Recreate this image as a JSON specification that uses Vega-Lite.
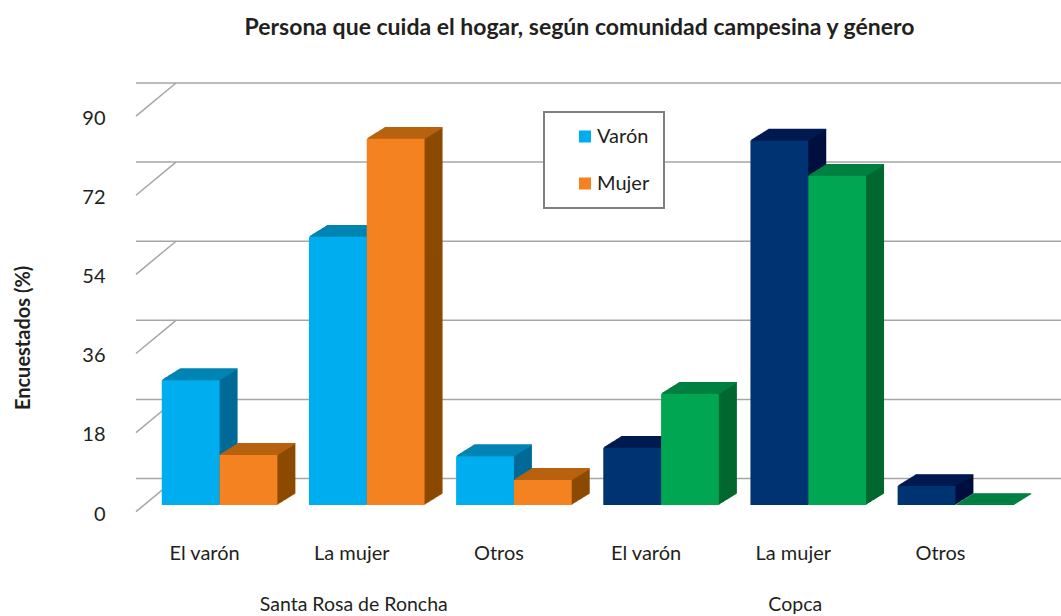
{"$schema":"https://vega.github.io/schema/vega-lite/v6.json","autosize":"none","width":925,"height":395.6,"padding":{"left":136,"top":109.4,"right":0,"bottom":111},"background":"white",
"config":{"view":{"stroke":null},"font":"Lato","legend":{"strokeWidth":2}},
"title":{"text":"Persona que cuida el hogar, según comunidad campesina y género","font":"Lato","fontSize":23,"fontWeight":"bold","color":"#231f20","anchor":"middle","frame":"group","dx":-19,"offset":42},
"datasets":{"barras":[
{"grupo":"Santa Rosa de Roncha","categoria":"Santa Rosa de Roncha|El varón","genero":"Varón","serie":"Varón","valor":28.4},
{"grupo":"Santa Rosa de Roncha","categoria":"Santa Rosa de Roncha|El varón","genero":"Mujer","serie":"Mujer","valor":11.4},
{"grupo":"Santa Rosa de Roncha","categoria":"Santa Rosa de Roncha|La mujer","genero":"Varón","serie":"Varón","valor":61},
{"grupo":"Santa Rosa de Roncha","categoria":"Santa Rosa de Roncha|La mujer","genero":"Mujer","serie":"Mujer","valor":83.3},
{"grupo":"Santa Rosa de Roncha","categoria":"Santa Rosa de Roncha|Otros","genero":"Varón","serie":"Varón","valor":11.1},
{"grupo":"Santa Rosa de Roncha","categoria":"Santa Rosa de Roncha|Otros","genero":"Mujer","serie":"Mujer","valor":5.7},
{"grupo":"Copca","categoria":"Copca|El varón","genero":"Varón","serie":"Varón Copca","valor":13},
{"grupo":"Copca","categoria":"Copca|El varón","genero":"Mujer","serie":"Mujer Copca","valor":25.3},
{"grupo":"Copca","categoria":"Copca|La mujer","genero":"Varón","serie":"Varón Copca","valor":82.9},
{"grupo":"Copca","categoria":"Copca|La mujer","genero":"Mujer","serie":"Mujer Copca","valor":74.9},
{"grupo":"Copca","categoria":"Copca|Otros","genero":"Varón","serie":"Varón Copca","valor":4.3},
{"grupo":"Copca","categoria":"Copca|Otros","genero":"Mujer","serie":"Mujer Copca","valor":0}
],
"marcas":[{"v":0},{"v":18},{"v":36},{"v":54},{"v":72},{"v":90}],
"grupos":[{"categoria":"Santa Rosa de Roncha|La mujer","grupo":"Santa Rosa de Roncha"},{"categoria":"Copca|La mujer","grupo":"Copca"}]},
"layer":[
{"data":{"name":"marcas"},"mark":{"type":"rule","color":"#a6a6a6","strokeWidth":1.5,"xOffset":40,"yOffset":-26.4},
 "encoding":{"y":{"field":"v","type":"quantitative","scale":{"domain":[0,90],"nice":false},
  "axis":{"values":[0,18,36,54,72,90],"grid":false,"domain":false,"ticks":false,"labelFont":"Lato","labelFontSize":20,"labelColor":"#231f20","labelPadding":31,"labelOffset":9,"title":"Encuestados (%)","titleFont":"Lato","titleFontSize":20,"titleFontWeight":"bold","titleColor":"#231f20","titleX":-113,"titleY":228,"titleAngle":-90,"titleAlign":"center","titleBaseline":"middle"}}}},
{"data":{"name":"marcas"},"mark":{"type":"rule","color":"#a6a6a6","strokeWidth":1.5,"xOffset":-83.6,"x2Offset":-43.6,"yOffset":6.7,"y2Offset":-26.4},
 "encoding":{"x":{"datum":"Santa Rosa de Roncha|El varón","type":"nominal"},"x2":{"datum":"Santa Rosa de Roncha|El varón"},"y":{"field":"v","type":"quantitative"},"y2":{"field":"v"}}},
{"data":{"name":"barras"},
 "resolve":{"scale":{"color":"independent","stroke":"independent"}},
 "encoding":{
  "x":{"field":"categoria","type":"nominal","sort":null,"scale":{"domain":["Santa Rosa de Roncha|El varón","Santa Rosa de Roncha|La mujer","Santa Rosa de Roncha|Otros","Copca|El varón","Copca|La mujer","Copca|Otros"],"range":[10,893],"paddingInner":0,"paddingOuter":0},
   "axis":{"title":null,"domain":false,"ticks":false,"labelAngle":0,"labelAlign":"center","labelBaseline":"middle","labelFont":"Lato","labelFontSize":20,"labelColor":"#231f20","labelPadding":48,"labelOffset":-15,"labelExpr":"split(datum.value,'|')[1]"}},
  "y":{"field":"valor","type":"quantitative","stack":null}},
 "layer":[
 {"encoding":{"y2":{"datum":0},"color":{"field":"serie","type":"nominal","legend":null,"scale":{"domain":["Varón","Mujer","Varón Copca","Mujer Copca"],"range":["#006a96","#8c4a00","#000f40","#006830"]}}},
  "layer":[
  {"mark":{"type":"bar","width":57.8,"xOffset":{"expr":"(datum.genero=='Varón'?-28.9:28.9)+18"},"yOffset":-11.2,"y2Offset":-11.2}},{"mark":{"type":"bar","width":57.8,"xOffset":{"expr":"(datum.genero=='Varón'?-28.9:28.9)+17"},"yOffset":-10.6,"y2Offset":-10.6}},{"mark":{"type":"bar","width":57.8,"xOffset":{"expr":"(datum.genero=='Varón'?-28.9:28.9)+16"},"yOffset":-10,"y2Offset":-10}},{"mark":{"type":"bar","width":57.8,"xOffset":{"expr":"(datum.genero=='Varón'?-28.9:28.9)+15"},"yOffset":-9.3,"y2Offset":-9.3}},{"mark":{"type":"bar","width":57.8,"xOffset":{"expr":"(datum.genero=='Varón'?-28.9:28.9)+14"},"yOffset":-8.7,"y2Offset":-8.7}},{"mark":{"type":"bar","width":57.8,"xOffset":{"expr":"(datum.genero=='Varón'?-28.9:28.9)+13"},"yOffset":-8.1,"y2Offset":-8.1}},{"mark":{"type":"bar","width":57.8,"xOffset":{"expr":"(datum.genero=='Varón'?-28.9:28.9)+12"},"yOffset":-7.5,"y2Offset":-7.5}},{"mark":{"type":"bar","width":57.8,"xOffset":{"expr":"(datum.genero=='Varón'?-28.9:28.9)+11"},"yOffset":-6.8,"y2Offset":-6.8}},{"mark":{"type":"bar","width":57.8,"xOffset":{"expr":"(datum.genero=='Varón'?-28.9:28.9)+10"},"yOffset":-6.2,"y2Offset":-6.2}},{"mark":{"type":"bar","width":57.8,"xOffset":{"expr":"(datum.genero=='Varón'?-28.9:28.9)+9"},"yOffset":-5.6,"y2Offset":-5.6}},{"mark":{"type":"bar","width":57.8,"xOffset":{"expr":"(datum.genero=='Varón'?-28.9:28.9)+8"},"yOffset":-5,"y2Offset":-5}},{"mark":{"type":"bar","width":57.8,"xOffset":{"expr":"(datum.genero=='Varón'?-28.9:28.9)+7"},"yOffset":-4.4,"y2Offset":-4.4}},{"mark":{"type":"bar","width":57.8,"xOffset":{"expr":"(datum.genero=='Varón'?-28.9:28.9)+6"},"yOffset":-3.7,"y2Offset":-3.7}},{"mark":{"type":"bar","width":57.8,"xOffset":{"expr":"(datum.genero=='Varón'?-28.9:28.9)+5"},"yOffset":-3.1,"y2Offset":-3.1}},{"mark":{"type":"bar","width":57.8,"xOffset":{"expr":"(datum.genero=='Varón'?-28.9:28.9)+4"},"yOffset":-2.5,"y2Offset":-2.5}},{"mark":{"type":"bar","width":57.8,"xOffset":{"expr":"(datum.genero=='Varón'?-28.9:28.9)+3"},"yOffset":-1.9,"y2Offset":-1.9}},{"mark":{"type":"bar","width":57.8,"xOffset":{"expr":"(datum.genero=='Varón'?-28.9:28.9)+2"},"yOffset":-1.2,"y2Offset":-1.2}},{"mark":{"type":"bar","width":57.8,"xOffset":{"expr":"(datum.genero=='Varón'?-28.9:28.9)+1"},"yOffset":-0.6,"y2Offset":-0.6}}
  ]},
 {"encoding":{"y2":{"field":"valor"},"stroke":{"field":"serie","type":"nominal","legend":null,"scale":{"domain":["Varón","Mujer","Varón Copca","Mujer Copca"],"range":["#0084b4","#b8620f","#001a50","#008040"]}}},
  "layer":[
  {"mark":{"type":"bar","width":57.8,"strokeWidth":1.3,"xOffset":{"expr":"(datum.genero=='Varón'?-28.9:28.9)+18"},"yOffset":-11.2,"y2Offset":-11.2}},{"mark":{"type":"bar","width":57.8,"strokeWidth":1.3,"xOffset":{"expr":"(datum.genero=='Varón'?-28.9:28.9)+17"},"yOffset":-10.6,"y2Offset":-10.6}},{"mark":{"type":"bar","width":57.8,"strokeWidth":1.3,"xOffset":{"expr":"(datum.genero=='Varón'?-28.9:28.9)+16"},"yOffset":-10,"y2Offset":-10}},{"mark":{"type":"bar","width":57.8,"strokeWidth":1.3,"xOffset":{"expr":"(datum.genero=='Varón'?-28.9:28.9)+15"},"yOffset":-9.3,"y2Offset":-9.3}},{"mark":{"type":"bar","width":57.8,"strokeWidth":1.3,"xOffset":{"expr":"(datum.genero=='Varón'?-28.9:28.9)+14"},"yOffset":-8.7,"y2Offset":-8.7}},{"mark":{"type":"bar","width":57.8,"strokeWidth":1.3,"xOffset":{"expr":"(datum.genero=='Varón'?-28.9:28.9)+13"},"yOffset":-8.1,"y2Offset":-8.1}},{"mark":{"type":"bar","width":57.8,"strokeWidth":1.3,"xOffset":{"expr":"(datum.genero=='Varón'?-28.9:28.9)+12"},"yOffset":-7.5,"y2Offset":-7.5}},{"mark":{"type":"bar","width":57.8,"strokeWidth":1.3,"xOffset":{"expr":"(datum.genero=='Varón'?-28.9:28.9)+11"},"yOffset":-6.8,"y2Offset":-6.8}},{"mark":{"type":"bar","width":57.8,"strokeWidth":1.3,"xOffset":{"expr":"(datum.genero=='Varón'?-28.9:28.9)+10"},"yOffset":-6.2,"y2Offset":-6.2}},{"mark":{"type":"bar","width":57.8,"strokeWidth":1.3,"xOffset":{"expr":"(datum.genero=='Varón'?-28.9:28.9)+9"},"yOffset":-5.6,"y2Offset":-5.6}},{"mark":{"type":"bar","width":57.8,"strokeWidth":1.3,"xOffset":{"expr":"(datum.genero=='Varón'?-28.9:28.9)+8"},"yOffset":-5,"y2Offset":-5}},{"mark":{"type":"bar","width":57.8,"strokeWidth":1.3,"xOffset":{"expr":"(datum.genero=='Varón'?-28.9:28.9)+7"},"yOffset":-4.4,"y2Offset":-4.4}},{"mark":{"type":"bar","width":57.8,"strokeWidth":1.3,"xOffset":{"expr":"(datum.genero=='Varón'?-28.9:28.9)+6"},"yOffset":-3.7,"y2Offset":-3.7}},{"mark":{"type":"bar","width":57.8,"strokeWidth":1.3,"xOffset":{"expr":"(datum.genero=='Varón'?-28.9:28.9)+5"},"yOffset":-3.1,"y2Offset":-3.1}},{"mark":{"type":"bar","width":57.8,"strokeWidth":1.3,"xOffset":{"expr":"(datum.genero=='Varón'?-28.9:28.9)+4"},"yOffset":-2.5,"y2Offset":-2.5}},{"mark":{"type":"bar","width":57.8,"strokeWidth":1.3,"xOffset":{"expr":"(datum.genero=='Varón'?-28.9:28.9)+3"},"yOffset":-1.9,"y2Offset":-1.9}},{"mark":{"type":"bar","width":57.8,"strokeWidth":1.3,"xOffset":{"expr":"(datum.genero=='Varón'?-28.9:28.9)+2"},"yOffset":-1.2,"y2Offset":-1.2}},{"mark":{"type":"bar","width":57.8,"strokeWidth":1.3,"xOffset":{"expr":"(datum.genero=='Varón'?-28.9:28.9)+1"},"yOffset":-0.6,"y2Offset":-0.6}}
  ]},
 {"mark":{"type":"bar","width":57.8,"xOffset":{"expr":"datum.genero=='Varón'?-28.9:28.9"}},
  "encoding":{"color":{"field":"serie","type":"nominal","scale":{"domain":["Varón","Mujer","Varón Copca","Mujer Copca"],"range":["#00aeef","#f58220","#003371","#00a651"]},
   "legend":{"values":["Varón","Mujer"],"title":null,"orient":"none","legendX":408,"legendY":2.6,"direction":"vertical","symbolType":"square","symbolSize":144,"symbolStrokeWidth":0,"symbolOffset":16.5,"labelFont":"Lato","labelFontSize":20,"labelColor":"#231f20","labelOffset":2,"rowPadding":27,"padding":14.5,"strokeColor":"#808080","fillColor":"white"}}}}
 ]},
{"data":{"name":"grupos"},"mark":{"type":"text","font":"Lato","fontSize":19.5,"color":"#231f20","dx":-13,"align":"center","baseline":"middle"},
 "encoding":{"x":{"field":"categoria","type":"nominal"},"y":{"datum":-22.8},"text":{"field":"grupo"}}}
]}
